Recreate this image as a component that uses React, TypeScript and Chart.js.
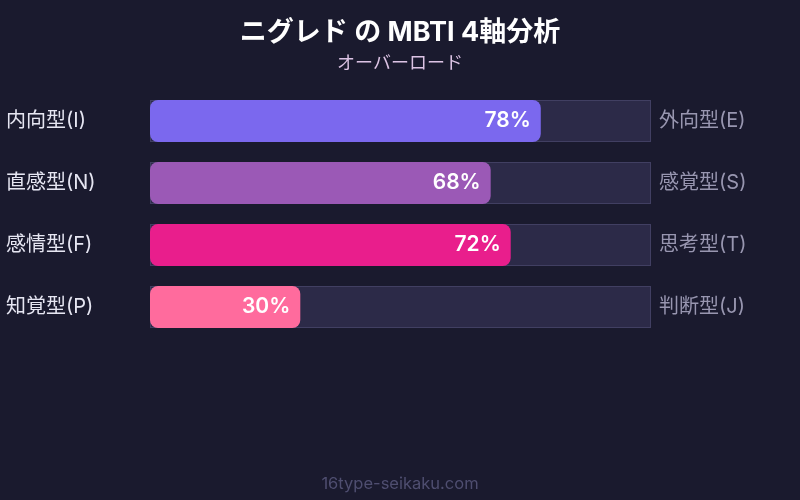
import React, { useEffect, useRef } from "react";
import { Chart, registerables } from "chart.js";

Chart.register(...registerables);

const leftLabels = ["内向型(I)", "直感型(N)", "感情型(F)", "知覚型(P)"];
const rightLabels = ["外向型(E)", "感覚型(S)", "思考型(T)", "判断型(J)"];
const values = [78, 68, 72, 30];
const trackValues = [100, 100, 100, 100];
const barColors = ["#7b68ee", "#9b59b6", "#e91e8c", "#ff6b9d"];
const titleText = "ニグレド の MBTI 4軸分析";
const subtitleText = "オーバーロード";
const footerText = "16type-seikaku.com";

const FONT = "Inter, 'Noto Sans CJK JP', 'Noto Sans', sans-serif";

export default function App() {
  const ref = useRef<HTMLCanvasElement | null>(null);

  useEffect(() => {
    if (!ref.current) return;
    const textPlugin = {
      id: "texts",
      beforeDraw(chart: any) {
        const ctx = chart.ctx;
        ctx.save();
        ctx.fillStyle = "#1a1a2e";
        ctx.fillRect(0, 0, chart.width, chart.height);
        ctx.restore();
      },
      afterDraw(chart: any) {
        const ctx = chart.ctx;
        ctx.save();
        ctx.textAlign = "center";
        ctx.textBaseline = "middle";
        ctx.fillStyle = "#ffffff";
        ctx.font = `bold 27px ${FONT}`;
        ctx.fillText(titleText, chart.width / 2, 33);
        ctx.fillStyle = "#dcc3e4";
        ctx.font = `18px ${FONT}`;
        ctx.fillText(subtitleText, chart.width / 2, 64);
        ctx.fillStyle = "#4f4e70";
        ctx.font = `16.5px ${FONT}`;
        ctx.fillText(footerText, chart.width / 2, 484);
        ctx.restore();
      },
      afterDatasetsDraw(chart: any) {
        const ctx = chart.ctx;
        const meta = chart.getDatasetMeta(0);
        ctx.save();
        ctx.textAlign = "right";
        ctx.textBaseline = "middle";
        ctx.fillStyle = "#ffffff";
        ctx.font = `600 21px ${FONT}`;
        meta.data.forEach((el: any, i: number) => {
          ctx.fillText(values[i] + "%", el.x - 10, el.y);
        });
        ctx.restore();
      },
    };

    const chart = new Chart(ref.current, {
      type: "bar",
      data: {
        labels: leftLabels,
        datasets: [
          {
            data: values,
            backgroundColor: barColors,
            borderWidth: 0,
            borderRadius: 8,
            borderSkipped: false,
            grouped: false,
            barPercentage: 1,
            categoryPercentage: 42 / 62,
            yAxisID: "y",
          },
          {
            data: trackValues,
            backgroundColor: "#2c2a48",
            borderColor: "#413f62",
            borderWidth: 1,
            borderSkipped: false,
            grouped: false,
            barPercentage: 1,
            categoryPercentage: 42 / 62,
            yAxisID: "y",
          },
        ],
      },
      options: {
        indexAxis: "y",
        animation: false,
        responsive: false,
        maintainAspectRatio: false,
        layout: { padding: { left: 6, right: 0, top: 90, bottom: 162 } },
        plugins: {
          legend: { display: false },
          tooltip: { enabled: false },
          title: { display: false },
        },
        scales: {
          x: {
            display: false,
            min: 0,
            max: 100,
          },
          y: {
            position: "left",
            grid: { display: false, drawTicks: false },
            border: { display: false },
            ticks: {
              crossAlign: "far",
              color: "#e6e6f2",
              font: { size: 20, family: FONT },
              padding: 0,
            },
            afterFit(axis: any) {
              axis.width = 144;
            },
          },
          y2: {
            position: "right",
            type: "category",
            labels: rightLabels,
            offset: true,
            grid: { display: false, drawTicks: false },
            border: { display: false },
            ticks: {
              crossAlign: "near",
              color: "#9896b0",
              font: { size: 20, family: FONT },
              padding: 8,
            },
            afterFit(axis: any) {
              axis.width = 149;
            },
          },
        },
      },
      plugins: [textPlugin],
    });
    return () => chart.destroy();
  }, []);

  return (
    <div style={{ position: "fixed", left: 0, top: 0, width: 800, height: 500 }}>
      <canvas ref={ref} width={800} height={500} style={{ display: "block" }} />
    </div>
  );
}
